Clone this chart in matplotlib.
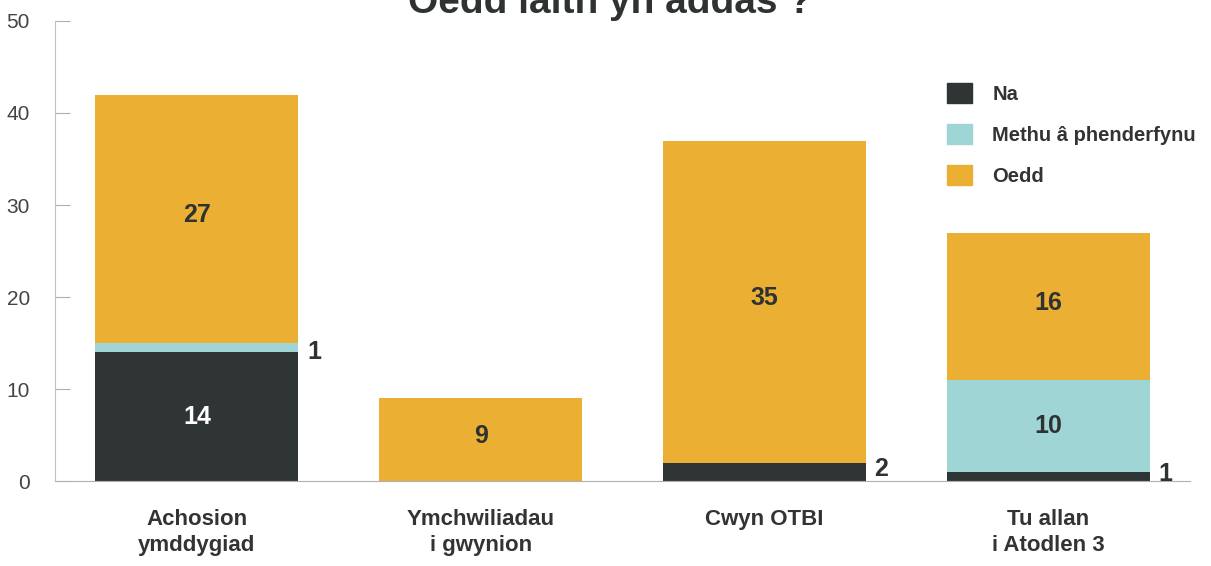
import numpy as np
import matplotlib.pyplot as plt
from matplotlib.patches import Patch

plt.rcParams['font.family'] = ['Liberation Sans', 'DejaVu Sans']

categories = ['Achosion\nymddygiad', 'Ymchwiliadau\ni gwynion', 'Cwyn OTBI', 'Tu allan\ni Atodlen 3']
na = [14, 0, 2, 1]
methu = [1, 0, 0, 10]
oedd = [27, 9, 35, 16]
series_names = ['Na', 'Methu â phenderfynu', 'Oedd']
colors = ['#2f3535', '#9fd5d4', '#ebaf33']

fig = plt.figure(figsize=(12.11, 5.66), dpi=100)
ax = fig.add_axes([0.0454, 0.150, 0.9373, 0.813])

x = np.arange(len(categories))
w = 0.716
b1 = np.array(na)
b2 = b1 + np.array(methu)
ax.bar(x, na, w, color=colors[0])
ax.bar(x, methu, w, bottom=b1, color=colors[1])
ax.bar(x, oedd, w, bottom=b2, color=colors[2])

lab = dict(fontsize=18, fontweight='bold', color='#2f3232')
for i in range(len(categories)):
    # big segments get the number inside, small ones to the right
    if na[i] >= 5:
        ax.text(x[i], na[i] / 2, str(na[i]), ha='center', va='center', **{**lab, 'color': 'white'})
    elif na[i] > 0:
        ax.text(x[i] + w / 2 + 0.03, na[i] / 2 + 0.3, str(na[i]), ha='left', va='center', **lab)
    if methu[i] >= 5:
        ax.text(x[i], b1[i] + methu[i] / 2, str(methu[i]), ha='center', va='center', **lab)
    elif methu[i] > 0:
        ax.text(x[i] + w / 2 + 0.03, b1[i] + methu[i] / 2 - 0.5, str(methu[i]), ha='left', va='center', **lab)
    if oedd[i] > 0:
        ax.text(x[i], b2[i] + oedd[i] / 2 + 0.4, str(oedd[i]), ha='center', va='center', **lab)

ax.set_xlim(-0.5, 3.5)
ax.set_ylim(0, 50)
ax.set_yticks([0, 10, 20, 30, 40, 50])
ax.set_xticks(x)
ax.set_xticklabels(categories, fontsize=16, fontweight='bold', color='#333333', linespacing=1.3)
ax.tick_params(axis='x', length=0, pad=20)
ax.tick_params(axis='y', direction='in', length=11, color='#b0b0b0', labelsize=15,
               labelcolor='#444444', pad=18)
for s in ['top', 'right']:
    ax.spines[s].set_visible(False)
ax.spines['left'].set_color('#c0c0c0')
ax.spines['bottom'].set_color('#b0b0b0')

handles = [Patch(color=c) for c in colors]
ax.legend(handles, series_names, loc='upper left', bbox_to_anchor=(0.77, 0.905), frameon=False,
          prop={'size': 14.5, 'weight': 'bold'}, labelcolor='#333333',
          handlelength=1.25, handleheight=1.15, labelspacing=1.0, handletextpad=1.0)

fig.text(0.504, 0.977, 'Oedd iaith yn addas ?', ha='center', va='baseline',
         fontsize=28, fontweight='bold', color='#2f3232')

fig.savefig('out.png', dpi=100)
